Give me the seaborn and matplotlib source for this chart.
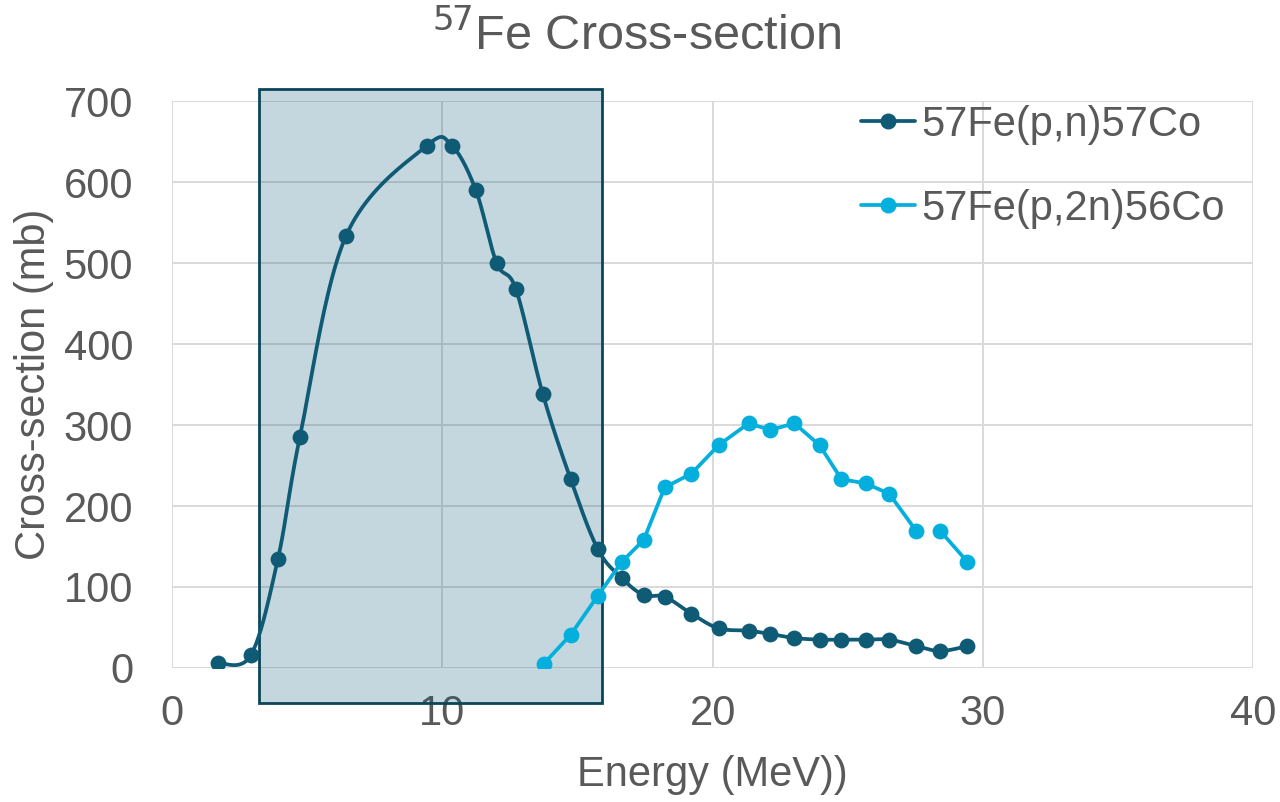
import numpy as np
import pandas as pd
import matplotlib
matplotlib.use("Agg")
import matplotlib.pyplot as plt
import seaborn as sns
from matplotlib.patches import Rectangle
from matplotlib.lines import Line2D

# datos
energia_pn = [1.70, 2.92, 3.92, 4.73, 6.43, 9.43, 10.35, 11.24, 12.01, 12.72, 13.72, 14.75,
              15.75, 16.64, 17.45, 18.23, 19.22, 20.22, 21.33, 22.14, 23.03, 23.96, 24.77,
              25.66, 26.54, 27.54, 28.43, 29.43]
sigma_pn = [6, 16, 135, 285, 533, 645, 645, 590, 500, 468, 338, 233,
            147, 111, 90, 88, 67, 49, 46, 42, 37, 35, 35,
            35, 35, 27, 21, 27]

energia_p2n = [13.75, 14.75, 15.75, 16.64, 17.45, 18.23, 19.22, 20.22, 21.33, 22.14, 23.03,
               23.96, 24.77, 25.66, 26.54, 27.54, 28.43, 29.43]
sigma_p2n = [5, 41, 89, 131, 158, 223, 240, 275, 302, 294, 302,
             275, 233, 228, 215, 169, 169, 131]
tramo_p2n = [0] * 16 + [1] * 2  # la linea se corta entre 27.5 y 28.4 MeV

ventana = (3.2, 15.9)  # region sombreada (MeV)

serie_pn = "57Fe(p,n)57Co"
serie_p2n = "57Fe(p,2n)56Co"
color_pn = "#0f5a75"
color_p2n = "#03afdc"
gris = "#595959"


def suavizar(x, y, n=24):
    # curva suave tipo Excel (Catmull-Rom / Bezier)
    p = np.column_stack([x, y]).astype(float)
    p = np.vstack([p[0], p, p[-1]])
    out = []
    t = np.linspace(0, 1, n)[:, None]
    for i in range(1, len(p) - 2):
        p0, p1, p2, p3 = p[i - 1], p[i], p[i + 1], p[i + 2]
        c1 = p1 + (p2 - p0) / 6
        c2 = p2 - (p3 - p1) / 6
        seg = ((1 - t) ** 3) * p1 + 3 * ((1 - t) ** 2) * t * c1 + 3 * (1 - t) * t ** 2 * c2 + t ** 3 * p2
        out.append(seg)
    out = np.vstack(out)
    return out[:, 0], out[:, 1]


sns.set_style("whitegrid")
plt.rcParams["font.family"] = ["Liberation Sans", "DejaVu Sans"]

fig = plt.figure(figsize=(12.8, 8.02), dpi=100)
ax = fig.add_axes([0.1344, 0.1671, 0.8446, 0.7069])

# region sombreada
ax.add_patch(Rectangle((ventana[0], -43), ventana[1] - ventana[0], 758,
                       facecolor=(16 / 255, 90 / 255, 117 / 255, 0.24),
                       edgecolor="#0b4559", linewidth=2, clip_on=False, zorder=1.5))

sx, sy = suavizar(energia_pn, sigma_pn)
sns.lineplot(x=sx, y=sy, sort=False, estimator=None, color=color_pn, linewidth=2.7, ax=ax, zorder=3)
sns.scatterplot(x=energia_pn, y=sigma_pn, color=color_pn, s=130, linewidth=0, ax=ax, zorder=4)

df2 = pd.DataFrame({"E": energia_p2n, "s": sigma_p2n, "tramo": tramo_p2n})
for _, d in df2.groupby("tramo"):
    sns.lineplot(data=d, x="E", y="s", sort=False, estimator=None, color=color_p2n,
                 linewidth=2.7, ax=ax, zorder=3)
sns.scatterplot(data=df2, x="E", y="s", color=color_p2n, s=130, linewidth=0, ax=ax, zorder=4)

ax.set_xlim(0, 40)
ax.set_ylim(0, 700)
ax.set_xticks([0, 10, 20, 30, 40])
ax.set_yticks(range(0, 701, 100))
ax.grid(True, color="#d9d9d9", linewidth=1.4)
ax.set_axisbelow(True)
for s in ax.spines.values():
    s.set_visible(False)
ax.tick_params(axis="y", length=0, labelsize=30, colors=gris, pad=28)
ax.tick_params(axis="x", length=0, labelsize=30, colors=gris, pad=19)

ax.set_xlabel("Energy (MeV))", fontsize=30, color=gris, labelpad=15)
ax.set_ylabel("Cross-section (mb)", fontsize=30, color=gris, labelpad=7)
fig.suptitle("$^{57}$Fe Cross-section", fontsize=35, color=gris, x=0.497, y=1 - 50 / 802,
             va="baseline")

handles = [Line2D([], [], color=color_pn, marker="o", markersize=10.5, linewidth=2.7),
           Line2D([], [], color=color_p2n, marker="o", markersize=10.5, linewidth=2.7)]
ax.legend(handles, [serie_pn, serie_p2n], loc="upper right", frameon=False, fontsize=30,
          labelcolor=gris, handlelength=1.3, handletextpad=0.15, labelspacing=1.05,
          borderpad=0, borderaxespad=0, bbox_to_anchor=(0.974, 0.993))

fig.savefig("out.png", dpi=100)
